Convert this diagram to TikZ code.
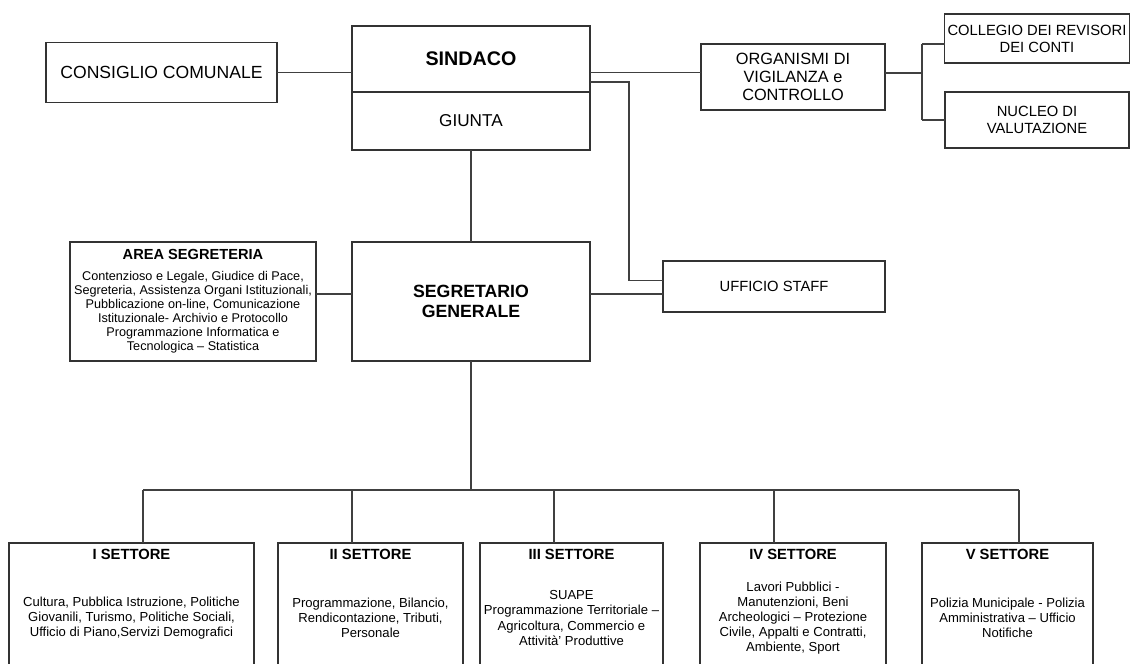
\documentclass[tikz,border=0pt]{standalone}
\usepackage{fontspec}
\setmainfont{Liberation Sans}
\usetikzlibrary{positioning}

\begin{document}
\begin{tikzpicture}[
                x=0.025cm, y=-0.025cm,
                box/.style={draw=black!80, line width=0.8pt, align=center, inner sep=2pt, outer sep=0pt},
                wire/.style={draw=black!75, line width=0.8pt},
                settore/.style={box, minimum height=3.75cm,
                    font=\fontsize{9.3}{10.7}\selectfont},
                titolo/.style={inner sep=0pt,
                    font=\fontsize{10.5}{12}\selectfont\bfseries}]
            \clip (0,0) rectangle (1131,664);

            \node[box, minimum width=5.95cm, minimum height=1.65cm,
                font=\fontsize{14}{16}\selectfont\bfseries]     (sindaco)    at (471,59)      {SINDACO};
            \node[box, minimum width=5.95cm, minimum height=1.45cm,
                font=\fontsize{12.2}{14}\selectfont]            (giunta)     [below=0cm of sindaco] {GIUNTA};
            \node[box, minimum width=5.775cm, minimum height=1.5cm,
                font=\fontsize{12.5}{14}\selectfont]            (consiglio)  at (161.5,72.5)  {CONSIGLIO COMUNALE};
            \node[box, minimum width=4.6cm, minimum height=1.65cm,
                font=\fontsize{11.6}{12.6}\selectfont]          (organismi)  at (793,77)      {ORGANISMI DI\\ VIGILANZA e\\ CONTROLLO};
            \node[box, minimum width=4.6cm, minimum height=1.225cm,
                font=\fontsize{10.5}{12}\selectfont]            (collegio)   at (1037,38.5)   {COLLEGIO DEI REVISORI\\ DEI CONTI};
            \node[box, minimum width=4.6cm, minimum height=1.4cm,
                font=\fontsize{10.5}{12}\selectfont]            (nucleo)     at (1037,120)    {NUCLEO DI\\ VALUTAZIONE};
            \node[box, minimum width=5.55cm, minimum height=1.275cm,
                font=\fontsize{10.5}{12}\selectfont]            (staff)      at (774,286.5)   {UFFICIO STAFF};
            \node[box, minimum width=5.95cm, minimum height=2.975cm,
                font=\fontsize{12.6}{14.2}\selectfont\bfseries] (segretario) at (471,301.5)   {SEGRETARIO\\ GENERALE};
            \node[box, minimum width=6.15cm, minimum height=2.975cm,
                font=\fontsize{9}{10}\selectfont]               (area)       at (193,301.5)   {{\fontsize{10.4}{12}\selectfont\bfseries AREA SEGRETERIA}\\[5pt]
                    Contenzioso e Legale, Giudice di Pace,\\ Segreteria, Assistenza Organi Istituzionali,\\
                    Pubblicazione on-line, Comunicazione\\ Istituzionale- Archivio e Protocollo\\
                    Programmazione Informatica e\\ Tecnologica -- Statistica};

            % settori
            \node[settore, minimum width=6.125cm] (s1) at (131.5,618)  {Cultura, Pubblica Istruzione, Politiche\\
                    Giovanili, Turismo, Politiche Sociali,\\ Ufficio di Piano,Servizi Demografici};
            \node[settore, minimum width=4.625cm] (s2) at (370.5,618)  {Programmazione, Bilancio,\\
                    Rendicontazione, Tributi,\\ Personale};
            \node[settore, minimum width=4.575cm] (s3) at (571.5,618)  {SUAPE\\ Programmazione Territoriale --\\
                    Agricoltura, Commercio e\\ Attivit\`a' Produttive};
            \node[settore, minimum width=4.65cm]  (s4) at (793,618)    {Lavori Pubblici -\\ Manutenzioni, Beni\\
                    Archeologici -- Protezione\\ Civile, Appalti e Contratti,\\ Ambiente, Sport};
            \node[settore, minimum width=4.275cm] (s5) at (1007.5,618) {Polizia Municipale - Polizia\\
                    Amministrativa -- Ufficio\\ Notifiche};

            \node[titolo] (t1) [below=0.14cm of s1.north] {I SETTORE};
            \node[titolo] (t2) [below=0.14cm of s2.north] {II SETTORE};
            \node[titolo] (t3) [below=0.14cm of s3.north] {III SETTORE};
            \node[titolo] (t4) [below=0.14cm of s4.north] {IV SETTORE};
            \node[titolo] (t5) [below=0.14cm of s5.north] {V SETTORE};

            \coordinate (riga)      at (0,294);
            \coordinate (staffnodo) at (629,82);
            \coordinate (ramo)      at (922,73);
            \coordinate (ramo1)     at (922,44);
            \coordinate (ramo2)     at (922,120);
            \coordinate (bus)       at (471,490);

            \path[wire]
            (consiglio.east)
                edge (consiglio.east -| sindaco.west)
            (sindaco.east |- consiglio.east)
                edge (organismi.west |- consiglio.east)
            (organismi.east |- ramo)
                edge (ramo)
            (ramo1)
                edge (ramo2)
                edge (ramo1 -| collegio.west)
            (ramo2)
                edge (nucleo.west)
            (giunta.south)
                edge (segretario.north)
            (area.east |- riga)
                edge (segretario.west |- riga)
            (segretario.east |- riga)
                edge (staff.west |- riga)
            (segretario.south)
                edge (bus);
            \draw[wire] (sindaco.east |- staffnodo) -- (staffnodo) |- ([yshift=0.16cm]staff.west);

            \foreach \i/\x in {1/143,2/352,3/554,4/774,5/1019}
                \coordinate (d\i) at (\x,490);
            \draw[wire] (d1) -- (d5);
            \foreach \i in {1,...,5}
                \draw[wire] (d\i) -- (d\i |- s\i.north);
        \end{tikzpicture}
\end{document}
